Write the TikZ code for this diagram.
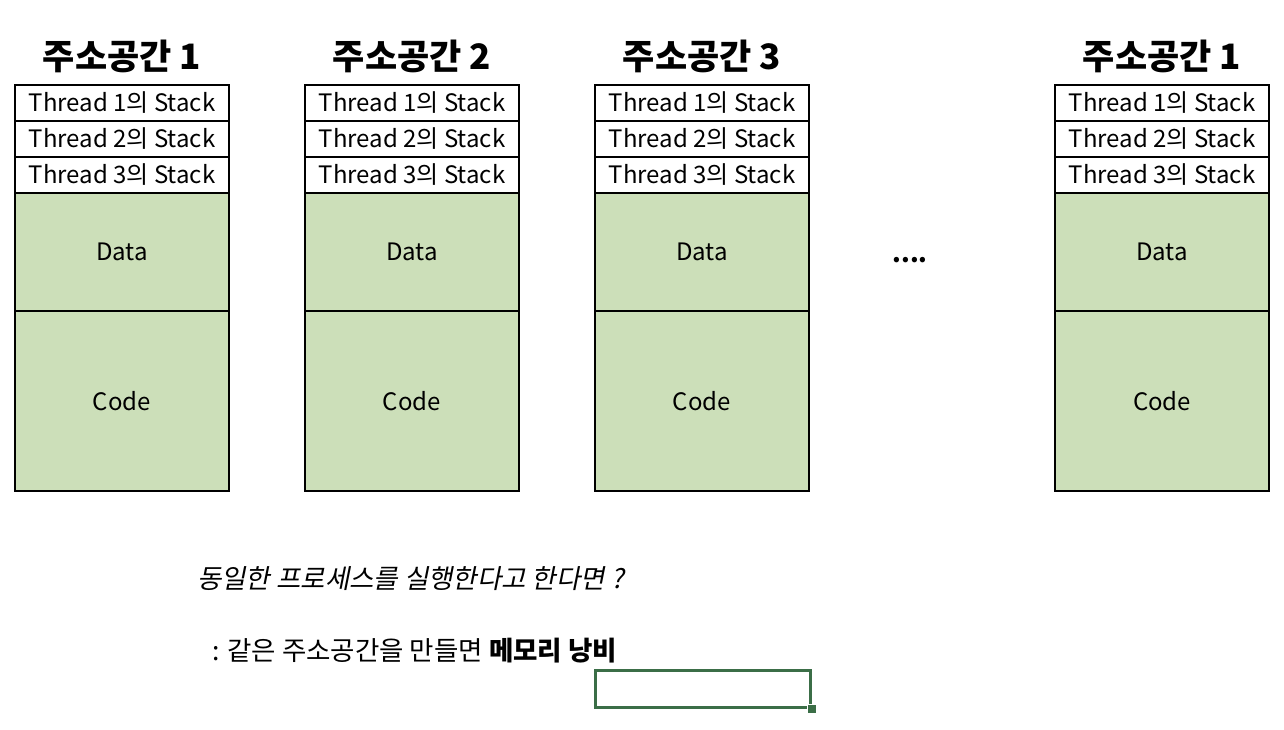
\documentclass[tikz,border=0pt]{standalone}
\usepackage{fontspec}
\setmainfont{Noto Sans CJK KR}
\newfontfamily\kit[FakeSlant=0.2]{Noto Sans CJK KR}
\definecolor{datagreen}{HTML}{CCDFB9}
\definecolor{selgreen}{HTML}{3B6E47}
\begin{document}
\begin{tikzpicture}[x=1pt,y=-1pt,
  cellbox/.style={draw, line width=1.5pt, minimum width=214pt, inner sep=0pt, outer sep=0pt, anchor=north west, font=\fontsize{24}{26}\selectfont},
  stackcell/.style={cellbox, minimum height=36pt},
  datacell/.style={cellbox, fill=datagreen, minimum height=118pt},
  codecell/.style={cellbox, fill=datagreen, minimum height=180pt},
  titlelabel/.style={font=\fontsize{35}{38}\selectfont\bfseries},
  bodytext/.style={anchor=west, inner sep=0pt, font=\fontsize{26.5}{30}\selectfont}]
\useasboundingbox (0,0) rectangle (1284,730);
\foreach \x/\t/\n in {15/1/a,305/2/b,595/3/c,1055/1/d} {
  \node[titlelabel] (t\n) at (\x+107,56) {주소공간 \t};
  \node[stackcell] (s1\n) at (\x,85) {Thread 1의 Stack};
  \node[stackcell] (s2\n) at (\x,121) {Thread 2의 Stack};
  \node[stackcell] (s3\n) at (\x,157) {Thread 3의 Stack};
  \node[datacell] (d\n) at (\x,193) {Data};
  \node[codecell] (c\n) at (\x,311) {Code};
}
\node[font=\fontsize{25}{26}\selectfont\bfseries] (dots) at (910,260) {....};
\node[bodytext] (q) at (197,579) {\kit 동일한 프로세스를 실행한다고 한다면 ?};
\node[bodytext] (ans) at (212,651) {: 같은 주소공간을 만들면 \textbf{메모리 낭비}};
\node[draw=selgreen, line width=3pt, minimum width=215pt, minimum height=37pt, inner sep=0pt, anchor=north west] (sel) at (594,669) {};
\node[fill=selgreen, draw=white, line width=1pt, minimum size=9pt, inner sep=0pt] (handle) at (sel.south east) {};
\end{tikzpicture}
\end{document}
